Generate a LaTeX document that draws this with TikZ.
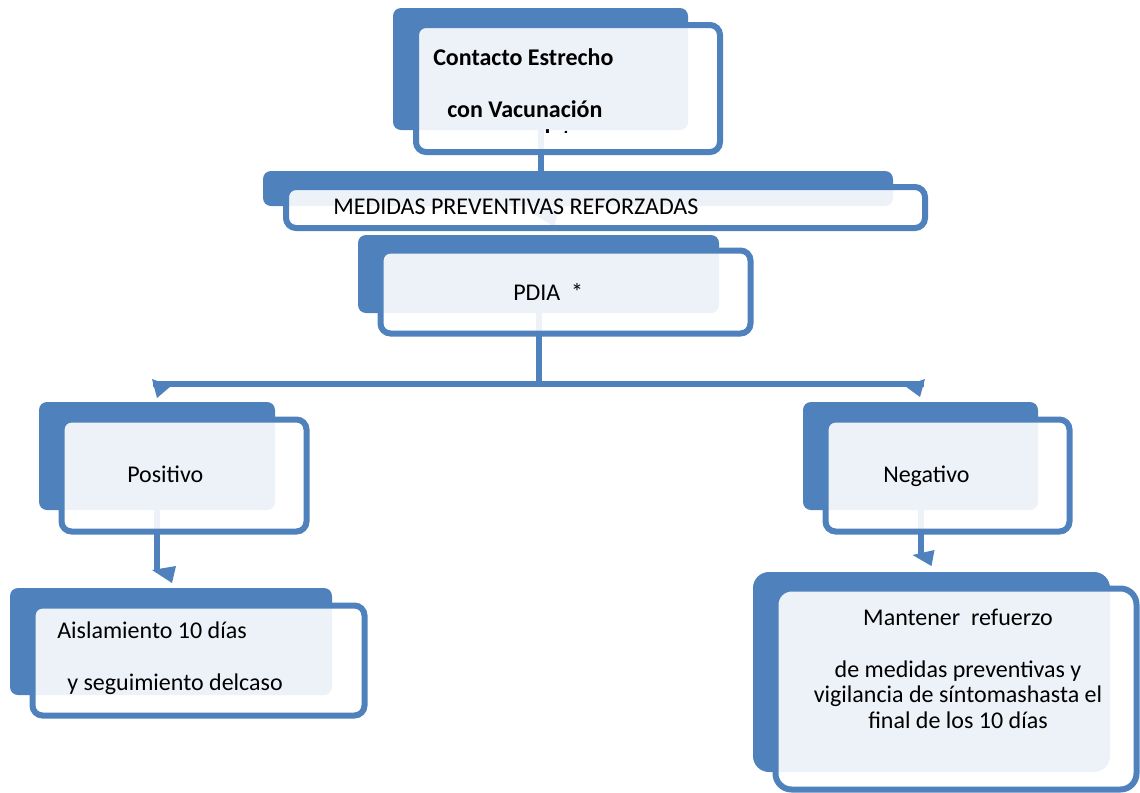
\documentclass[tikz,border=0pt]{standalone}
\usepackage{fontspec}
\setmainfont{Carlito}
\definecolor{sablue}{HTML}{4F81BD}
\pgfdeclarelayer{connlayer}
\pgfsetlayers{connlayer,main}
\begin{document}
\begin{tikzpicture}[x=0.75pt,y=-0.75pt,
  sz/.style 2 args={minimum width=#1*0.75pt, minimum height=#2*0.75pt},
  backbox/.style={rectangle, rounded corners=6pt, fill=sablue, inner sep=0pt, outer sep=0pt},
  frontbox/.style={rectangle, rounded corners=7.5pt, draw=sablue, line width=4.5pt, fill=white, fill opacity=0.9, inner sep=0pt},
  lbl/.style={font=\fontsize{18}{22}\selectfont, inner sep=0pt, text=black},
  conn/.style={draw=sablue, line width=4.5pt},
  hconn/.style={draw=sablue, line width=3.9pt},
  tipfill/.style={fill=sablue}]
\useasboundingbox (0,0) rectangle (1140,793);

% back boxes
\node[backbox, sz={295}{122}] (b1back) at (540.5,69) {};
\node[backbox, sz={630}{35}] (medback) at (578,188.5) {};
\node[backbox, sz={361}{78}] (pdiaback) at (538.5,274) {};
\node[backbox, sz={236}{108}] (posback) at (157,456) {};
\node[backbox, sz={235}{108}] (negback) at (920.5,456) {};
\node[backbox, sz={322}{107}] (aisback) at (171,641.5) {};
\node[backbox, sz={357}{200}, rounded corners=12pt] (manback) at (931.5,672) {};

% front boxes
\node[frontbox, sz={304}{127}] (b1) at (568,88.5) {};
\node[frontbox, sz={639}{41}] (med) at (605.5,207.5) {};
\node[frontbox, sz={370}{83}] (pdia) at (565.5,292) {};
\node[frontbox, sz={245}{112}] (pos) at (184,475.5) {};
\node[frontbox, sz={244}{112}] (neg) at (947.5,475.5) {};
\node[frontbox, sz={332}{110}] (ais) at (198.5,660.5) {};
\node[frontbox, sz={361}{201}, rounded corners=12pt] (man) at (956,689) {};

% connector end points
\coordinate (c1end) at (540.5,213);
\coordinate (hj) at (538.5,384);
\coordinate (hl) at (153,384);
\coordinate (hr) at (924,384);
\coordinate (pe) at (157,571);
\coordinate (ne) at (920.5,555);

\begin{pgfonlayer}{connlayer}
  \draw[conn] (b1back.south) -- (c1end);
  \fill[tipfill, shift={(c1end)}] (-10,-1) -- (18,-5) -- (14,14) -- cycle;
  \draw[conn] (pdiaback.south) -- (hj);
  \draw[hconn] (hl) -- (hr);
  \draw[conn] (posback.south) -- (pe);
  \draw[conn] (negback.south) -- (ne);
\end{pgfonlayer}
\fill[tipfill, shift={(hl)}] (-1,-5) -- (18,2) -- (4,14) -- cycle;
\fill[tipfill, shift={(hr)}] (1,-5) -- (-19,2) -- (-4,13) -- cycle;
\fill[tipfill, shift={(pe)}] (-5,-1) -- (19,-5) -- (15,12) -- cycle;
\fill[tipfill, shift={(ne)}] (-8,0) -- (14,-5) -- (11,11) -- cycle;

% texts
\node[lbl, anchor=base west, font=\fontsize{18}{22}\selectfont\bfseries] (t1a) at (433,65) {Contacto Estrecho};
\node[lbl, anchor=base west, font=\fontsize{18}{22}\selectfont\bfseries] (t1b) at (447,117) {con Vacunación};
\begin{scope}
  \clip (380,120) rectangle (700,132);
  \node[lbl, anchor=base west, font=\fontsize{18}{22}\selectfont\bfseries] (t1c) at (489,146) {completa};
\end{scope}
\node[lbl, anchor=base west] (tmed) at (333,214) {MEDIDAS PREVENTIVAS REFORZADAS};
\node[lbl, anchor=base west] (tpdia) at (513,300) {PDIA\ \ *};
\node[lbl, anchor=base west] (tpos) at (127,482) {Positivo};
\node[lbl, anchor=base west] (tneg) at (883,482) {Negativo};
\node[lbl, anchor=base west] (tais1) at (57,638) {Aislamiento 10 días};
\node[lbl, anchor=base west] (tais2) at (67,690) {y seguimiento delcaso};
\node[lbl, anchor=base] (tman1) at (958,625) {Mantener\ \ refuerzo};
\node[lbl, anchor=base] (tman2) at (958,677) {de medidas preventivas y};
\node[lbl, anchor=base] (tman3) at (958,702) {vigilancia de síntomashasta el};
\node[lbl, anchor=base] (tman4) at (958,728) {final de los 10 días};
\end{tikzpicture}
\end{document}
